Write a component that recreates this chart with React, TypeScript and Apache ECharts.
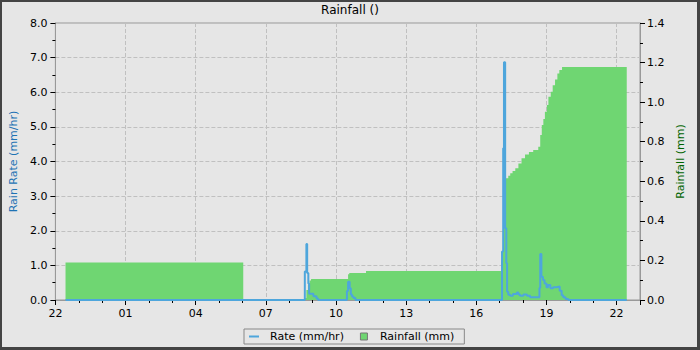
import React, { useEffect, useRef } from "react";
import * as echarts from "echarts";

const TITLE = "Rainfall ()";
const RATE_NAME = "Rate (mm/hr)";
const RAIN_NAME = "Rainfall (mm)";
const LEFT_AXIS_NAME = "Rain Rate (mm/hr)";
const RIGHT_AXIS_NAME = "Rainfall (mm)";

// times are "day HH:MM" (day 1 = start day, day 2 = next day)
const rateTimes = [
  "1 22:26", "2 08:40", "2 08:44", "2 08:46", "2 08:49", "2 08:51", "2 09:02", "2 09:10", "2 09:14",
  "2 10:28", "2 10:31", "2 10:35", "2 10:38", "2 10:41", "2 10:45", "2 10:50",
  "2 17:06", "2 17:09", "2 17:11", "2 17:14", "2 17:17", "2 17:19", "2 17:22", "2 17:27", "2 17:34",
  "2 17:44", "2 17:48", "2 17:52", "2 18:01", "2 18:10", "2 18:18", "2 18:42", "2 18:44", "2 18:47",
  "2 18:51", "2 18:55", "2 19:00", "2 19:04", "2 19:10", "2 19:17", "2 19:26", "2 19:34", "2 19:39",
  "2 19:43", "2 19:49", "2 19:56", "2 22:26",
];
const rateValues = [
  0, 0.82, 1.62, 0.78, 0.48, 0.18, 0.11, 0.04, 0,
  0.26, 0.53, 0.34, 0.16, 0.1, 0.06, 0,
  1.4, 4.38, 6.87, 2.07, 1.06, 0.24, 0.15, 0.12, 0.17,
  0.22, 0.16, 0.12, 0.16, 0.12, 0.08, 0.35, 1.33, 0.67,
  0.58, 0.48, 0.37, 0.43, 0.34, 0.37, 0.39, 0.27, 0.14,
  0.08, 0.03, 0, 0,
];

const rainTimes = [
  "1 22:26", "2 06:02", "2 08:38", "2 08:44", "2 08:48", "2 08:52", "2 08:56", "2 10:31", "2 10:34",
  "2 11:17", "2 17:05", "2 17:08", "2 17:11", "2 17:14", "2 17:22", "2 17:27", "2 17:33", "2 17:40",
  "2 17:48", "2 17:56", "2 18:05", "2 18:15", "2 18:26", "2 18:39", "2 18:44", "2 18:48", "2 18:52",
  "2 18:56", "2 19:01", "2 19:05", "2 19:11", "2 19:16", "2 19:22", "2 19:28", "2 19:33", "2 19:40",
  "2 22:26",
];
const rainValues = [
  0.19, 0, 0.01, 0.05, 0.08, 0.098, 0.106, 0.13, 0.137,
  0.147, 0.2, 0.35, 0.52, 0.615, 0.628, 0.64, 0.652, 0.666,
  0.69, 0.716, 0.736, 0.748, 0.758, 0.775, 0.834, 0.884, 0.915,
  0.952, 0.985, 1.027, 1.053, 1.086, 1.115, 1.145, 1.162, 1.177,
  1.177,
];

const START_HOUR = 22;
const X_SPAN_HOURS = 25;
const X_LABEL_STEP = 3;

const FONT = "DejaVu Sans";
const BLUE = "#4ea6dc";
const GREEN = "#6fd672";

function toHours(s: string): number {
  const [d, hm] = s.split(" ");
  const [h, m] = hm.split(":").map(Number);
  return (Number(d) - 1) * 24 + h + m / 60 - START_HOUR;
}

export default function App() {
  const ref = useRef<HTMLDivElement>(null);

  useEffect(() => {
    document.body.style.margin = "0";
    if (!ref.current) return;
    const chart = echarts.init(ref.current, undefined, { renderer: "svg" });

    const rateData = rateTimes.map((t, i) => [toHours(t), rateValues[i]]);
    const rainData = rainTimes.map((t, i) => [toHours(t), rainValues[i]]);

    const labelStyle = { fontFamily: FONT, fontSize: 11, color: "#000" };

    chart.setOption({
      animation: false,
      backgroundColor: "#e6e6e6",
      textStyle: { fontFamily: FONT },
      title: {
        text: TITLE,
        left: "center",
        top: 4,
        padding: 0,
        textStyle: { fontFamily: FONT, fontSize: 12, fontWeight: "normal", color: "#000" },
      },
      grid: {
        left: 55,
        right: 60,
        top: 23,
        bottom: 50,
        show: true,
        borderColor: "#999",
        borderWidth: 1,
        backgroundColor: "transparent",
      },
      legend: {
        left: 244,
        top: 329,
        orient: "horizontal",
        backgroundColor: "#e6e6e6",
        borderColor: "#888",
        borderWidth: 1,
        borderRadius: 0,
        padding: [2, 10, 2, 5],
        itemWidth: 10,
        itemHeight: 7,
        itemGap: 16,
        textStyle: { ...labelStyle, padding: [0, 0, 0, 6] },
        data: [
          {
            name: RATE_NAME,
            icon: "path://M0 0H10V2H0Z",
            itemStyle: { color: BLUE, borderWidth: 0 },
          },
          {
            name: RAIN_NAME,
            icon: "path://M0 0H7V7H0Z",
            itemStyle: { color: GREEN, borderColor: "#777", borderWidth: 1 },
          },
        ],
      },
      xAxis: {
        type: "value",
        min: 0,
        max: X_SPAN_HOURS,
        interval: X_LABEL_STEP,
        axisLine: { show: true, lineStyle: { color: "#999", width: 1 } },
        axisTick: { show: true, length: 5, lineStyle: { color: "#000" } },
        minorTick: { show: true, splitNumber: 3, length: 3, lineStyle: { color: "#000" } },
        splitLine: { show: true, lineStyle: { type: "dashed", color: "#c0c0c0" } },
        axisLabel: {
          ...labelStyle,
          margin: 8,
          showMaxLabel: false,
          formatter: (v: number) => String((START_HOUR + Math.round(v)) % 24).padStart(2, "0"),
        },
      },
      yAxis: [
        {
          type: "value",
          position: "left",
          min: 0,
          max: 8,
          interval: 1,
          name: LEFT_AXIS_NAME,
          nameLocation: "middle",
          nameRotate: 90,
          nameGap: 36,
          nameTextStyle: { fontFamily: FONT, fontSize: 11, color: "#1e73b4" },
          axisLine: { show: true, lineStyle: { color: "#999" } },
          axisTick: { show: true, length: 5, lineStyle: { color: "#000" } },
          minorTick: { show: true, splitNumber: 2, length: 3, lineStyle: { color: "#000" } },
          splitLine: { show: true, lineStyle: { type: "dashed", color: "#c0c0c0" } },
          axisLabel: { ...labelStyle, margin: 8, formatter: (v: number) => v.toFixed(1) },
        },
        {
          type: "value",
          position: "right",
          min: 0,
          max: 1.4,
          interval: 0.2,
          name: RIGHT_AXIS_NAME,
          nameLocation: "middle",
          nameRotate: 90,
          nameGap: 26,
          nameTextStyle: { fontFamily: FONT, fontSize: 11, color: "#006400" },
          axisLine: { show: true, lineStyle: { color: "#999" } },
          axisTick: { show: true, length: 5, lineStyle: { color: "#000" } },
          minorTick: { show: true, splitNumber: 2, length: 3, lineStyle: { color: "#000" } },
          splitLine: { show: false },
          axisLabel: { ...labelStyle, margin: 7, formatter: (v: number) => v.toFixed(1) },
        },
      ],
      series: [
        {
          name: RAIN_NAME,
          type: "line",
          yAxisIndex: 1,
          step: "end",
          data: rainData,
          symbol: "none",
          color: GREEN,
          lineStyle: { width: 0, color: GREEN },
          areaStyle: { color: GREEN, opacity: 1 },
          z: 1,
        },
        {
          name: RATE_NAME,
          type: "line",
          yAxisIndex: 0,
          step: "end",
          data: rateData,
          symbol: "none",
          color: BLUE,
          lineStyle: { width: 2, color: BLUE },
          z: 2,
        },
      ],
    });

    return () => chart.dispose();
  }, []);

  return (
    <div style={{ position: "relative", width: 700, height: 350 }}>
      <div ref={ref} style={{ position: "absolute", left: 0, top: 0, width: 700, height: 350 }} />
      <div
        style={{
          position: "absolute",
          left: 0,
          top: 0,
          width: 700,
          height: 350,
          boxSizing: "border-box",
          borderStyle: "solid",
          borderColor: "#444",
          borderWidth: "2px 3px 3px 2px",
          pointerEvents: "none",
        }}
      />
    </div>
  );
}
